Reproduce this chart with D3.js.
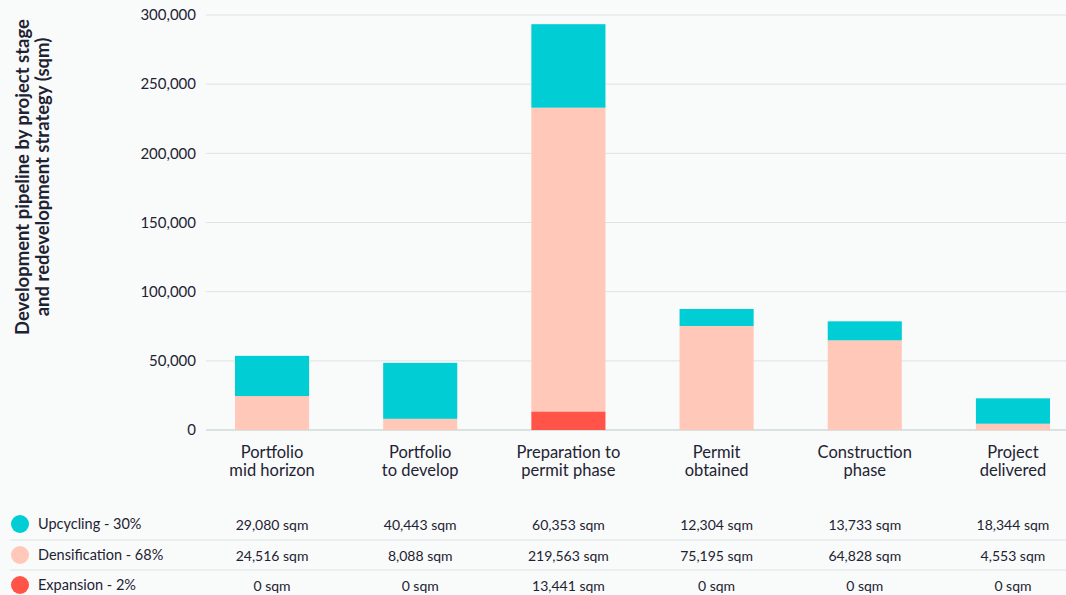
<!DOCTYPE html>
<html>
<head>
<meta charset="utf-8">
<script src="https://cdn.jsdelivr.net/npm/d3@7"></script>
<style>
  html, body { margin: 0; padding: 0; background: #f9fafa; }
  svg { display: block; font-family: "Lato", "Noto Sans", sans-serif; }
</style>
</head>
<body>
<svg id="chart" width="1066" height="595"></svg>
<script>
const categories = ["Portfolio mid horizon", "Portfolio to develop", "Preparation to permit phase", "Permit obtained", "Construction phase", "Project delivered"];
const categoryLines = [["Portfolio", "mid horizon"], ["Portfolio", "to develop"], ["Preparation to", "permit phase"], ["Permit", "obtained"], ["Construction", "phase"], ["Project", "delivered"]];
const upcycling = [29080, 40443, 60353, 12304, 13733, 18344];
const densification = [24516, 8088, 219563, 75195, 64828, 4553];
const expansion = [0, 0, 13441, 0, 0, 0];
const seriesNames = ["Upcycling - 30%", "Densification - 68%", "Expansion - 2%"];
const seriesKeys = ["upcycling", "densification", "expansion"];
const seriesColors = ["#00ced4", "#ffc8b8", "#ff5447"];
const yTicks = [0, 50000, 100000, 150000, 200000, 250000, 300000];
const yTitle = ["Development pipeline by project stage", "and redevelopment strategy (sqm)"];

const svg = d3.select("#chart");
const textColor = "#1e2333";
const gridColor = "#dde3e4";

const x = d3.scaleBand().domain(categories).range([235, 1050]).paddingInner(0.5).paddingOuter(0);
const y = d3.scaleLinear().domain([0, 300000]).range([430, 15]);

// grid
svg.append("g").selectAll("line").data(yTicks).join("line")
  .attr("x1", 206).attr("x2", 1066)
  .attr("y1", d => y(d)).attr("y2", d => y(d))
  .attr("stroke", d => d === 0 ? "#cfd8d9" : gridColor).attr("stroke-width", d => d === 0 ? 1.5 : 1);

// y tick labels
svg.append("g").selectAll("text").data(yTicks).join("text")
  .attr("x", 196).attr("y", d => y(d)).attr("dy", "0.35em")
  .attr("text-anchor", "end").attr("font-size", 15).attr("fill", textColor)
  .text(d => d3.format(",")(d));

// y title
yTitle.forEach((t, i) => {
  svg.append("text").attr("transform", `translate(${29 + i * 20},177) rotate(-90)`)
    .attr("text-anchor", "middle").attr("font-size", 18.5).attr("font-weight", "bold").attr("fill", textColor)
    .text(t);
});

// stacked data
const rows = categories.map((c, i) => ({ cat: c, upcycling: upcycling[i], densification: densification[i], expansion: expansion[i] }));
const stack = d3.stack().keys(["expansion", "densification", "upcycling"]);
const stacked = stack(rows);
const colorOf = k => seriesColors[seriesKeys.indexOf(k)];

svg.append("g").selectAll("g").data(stacked).join("g")
  .attr("fill", d => colorOf(d.key))
  .selectAll("rect").data(d => d).join("rect")
  .attr("x", d => x(d.data.cat)).attr("width", x.bandwidth())
  .attr("y", d => y(d[1])).attr("height", d => y(d[0]) - y(d[1]));

// category labels
categories.forEach((c, i) => {
  categoryLines[i].forEach((line, j) => {
    svg.append("text").attr("x", x(c) + x.bandwidth() / 2).attr("y", 458 + j * 18)
      .attr("text-anchor", "middle").attr("font-size", 16.5).attr("fill", textColor).text(line);
  });
});

// table
const rowY = [524, 555, 585];
const seriesValues = [upcycling, densification, expansion];
svg.append("g").selectAll("line").data([540, 570]).join("line")
  .attr("x1", 10).attr("x2", 1066).attr("y1", d => d).attr("y2", d => d)
  .attr("stroke", gridColor).attr("stroke-width", 1);

seriesNames.forEach((name, si) => {
  const g = svg.append("g");
  g.append("circle").attr("cx", 20).attr("cy", rowY[si]).attr("r", 9).attr("fill", seriesColors[si]);
  g.append("text").attr("x", 38).attr("y", rowY[si]).attr("dy", "0.35em")
    .attr("font-size", 14.5).attr("fill", textColor).text(name);
  g.selectAll("text.v").data(seriesValues[si]).join("text").attr("class", "v")
    .attr("x", (d, i) => x(categories[i]) + x.bandwidth() / 2).attr("y", rowY[si] + 1).attr("dy", "0.35em")
    .attr("text-anchor", "middle").attr("font-size", 14).attr("fill", textColor)
    .text(d => d3.format(",")(d) + " sqm");
});
</script>
</body>
</html>
